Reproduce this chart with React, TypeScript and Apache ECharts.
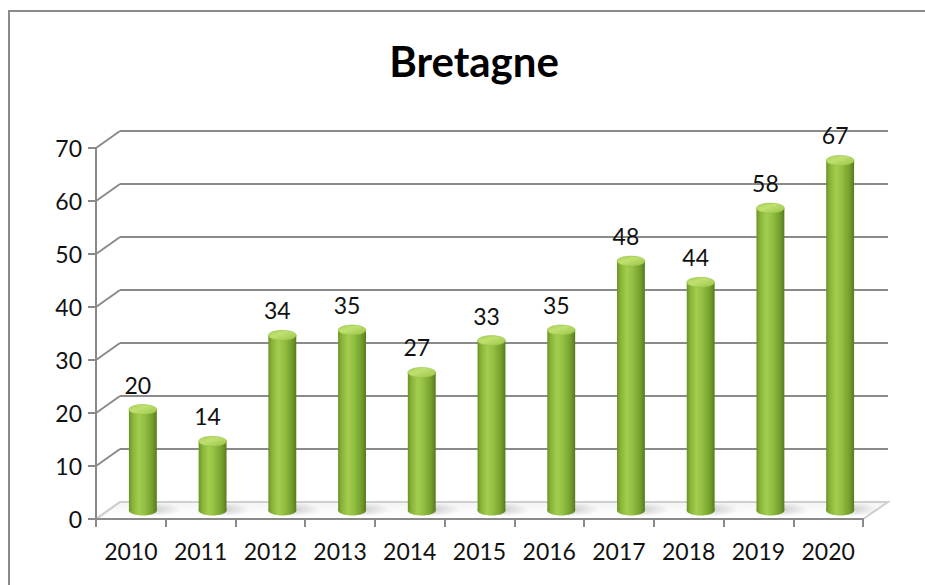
import React, { useEffect, useRef } from "react";
import * as echarts from "echarts";

const categories = ["2010", "2011", "2012", "2013", "2014", "2015", "2016", "2017", "2018", "2019", "2020"];
const values = [20, 14, 34, 35, 27, 33, 35, 48, 44, 58, 67];
const yTicks = [0, 10, 20, 30, 40, 50, 60, 70];
const title = "Bretagne";

const FONT = "Lato, 'Open Sans', sans-serif";
const GRID_COLOR = "#8a8a8a";
const FLOOR_COLOR = "#cfcfcf";

// front plane, back wall, middle (bars)
const FRONT = { left: 96, right: 62, top: 148, bottom: 66 };
const BACK = { left: 120, right: 37, top: 131, bottom: 83 };
const MID = { left: 108, right: 50, top: 139.5, bottom: 74.5 };

export default function App() {
  const ref = useRef<HTMLDivElement>(null);
  useEffect(() => {
    if (!ref.current) return;
    document.body.style.margin = "0";
    document.body.style.overflow = "hidden";
    document.documentElement.style.overflow = "hidden";
    const chart = echarts.init(ref.current, undefined, { renderer: "svg" });
    const yMax = yTicks[yTicks.length - 1];
    const splitColors = yTicks.map((t) => (t === 0 ? FLOOR_COLOR : GRID_COLOR));
    const option: any = {
      animation: false,
      backgroundColor: "#ffffff",
      title: {
        text: title,
        left: 469,
        top: 35,
        textAlign: "center",
        textStyle: { fontFamily: FONT, fontWeight: "bold", fontSize: 42, color: "#000" },
      },
      grid: [
        { ...FRONT, containLabel: false },
        { ...BACK, containLabel: false },
        { ...MID, containLabel: false },
      ],
      xAxis: [
        {
          gridIndex: 0,
          type: "category",
          data: categories,
          boundaryGap: true,
          axisLine: { show: true, lineStyle: { color: GRID_COLOR, width: 2 } },
          axisTick: { show: true, length: 8, lineStyle: { color: GRID_COLOR, width: 2 } },
          axisLabel: { margin: 20, fontFamily: FONT, fontSize: 23, color: "#111" },
          splitLine: { show: false },
        },
        { gridIndex: 1, type: "category", data: categories, show: false },
        { gridIndex: 2, type: "category", data: categories, boundaryGap: true, show: false },
      ],
      yAxis: [
        {
          gridIndex: 0,
          type: "value",
          min: 0,
          max: yMax,
          interval: 10,
          axisLine: { show: true, lineStyle: { color: GRID_COLOR, width: 2 } },
          axisTick: { show: true, length: 8, lineStyle: { color: GRID_COLOR, width: 2 } },
          axisLabel: { margin: 14, fontFamily: FONT, fontSize: 23, color: "#111" },
          splitLine: { show: false },
        },
        {
          gridIndex: 1,
          type: "value",
          min: 0,
          max: yMax,
          interval: 10,
          axisLine: { show: false },
          axisTick: { show: false },
          axisLabel: { show: false },
          splitLine: {
            show: true,
            lineStyle: { color: splitColors, width: 2 },
          },
        },
        { gridIndex: 2, type: "value", min: 0, max: yMax, interval: 10, show: false },
      ],
      series: [
        {
          type: "custom",
          xAxisIndex: 2,
          yAxisIndex: 2,
          z: 5,
          data: values.map((v, i) => [i, v]),
          renderItem: (params: any, api: any) => {
            const idx = api.value(0);
            const v = api.value(1);
            const top = api.coord([idx, v]);
            const base = api.coord([idx, 0]);
            const w = api.size([1, 0])[0] * 0.4;
            const rx = w / 2;
            const ry = 5;
            const cx = top[0];
            const topY = top[1] + ry;
            const bodyGrad = new echarts.graphic.LinearGradient(0, 0, 1, 0, [
              { offset: 0, color: "#6a9128" },
              { offset: 0.12, color: "#86b336" },
              { offset: 0.35, color: "#a3cd4e" },
              { offset: 0.55, color: "#94c143" },
              { offset: 0.85, color: "#729d2c" },
              { offset: 1, color: "#577a1d" },
            ]);
            const topGrad = new echarts.graphic.LinearGradient(0, 0, 1, 1, [
              { offset: 0, color: "#a9d157" },
              { offset: 0.4, color: "#c0e070" },
              { offset: 1, color: "#98c446" },
            ]);
            const shadowGrad = new echarts.graphic.RadialGradient(0.35, 0.5, 0.6, [
              { offset: 0, color: "rgba(0,0,0,0.18)" },
              { offset: 1, color: "rgba(0,0,0,0)" },
            ]);
            return {
              type: "group",
              children: [
                {
                  type: "ellipse",
                  shape: { cx: cx + rx * 1.2, cy: base[1] - 1, rx: rx * 1.7, ry: 6 },
                  style: { fill: shadowGrad },
                },
                {
                  type: "rect",
                  shape: { x: cx - rx, y: topY, width: w, height: Math.max(0, base[1] - topY) },
                  style: { fill: bodyGrad },
                },
                {
                  type: "ellipse",
                  shape: { cx, cy: base[1], rx, ry },
                  style: { fill: bodyGrad },
                },
                {
                  type: "ellipse",
                  shape: { cx, cy: topY, rx, ry },
                  style: { fill: topGrad, stroke: "#8fbd3e", lineWidth: 0.5 },
                },
                {
                  type: "text",
                  x: cx - 5,
                  y: top[1] - 20,
                  style: {
                    text: String(v),
                    fontFamily: FONT,
                    fontSize: 23,
                    fill: "#111",
                    align: "center",
                    verticalAlign: "middle",
                  },
                },
              ],
            };
          },
        },
      ],
    };
    chart.setOption(option);

    // diagonal connectors between front axis and back wall, and the floor
    const frontLeft = FRONT.left;
    const backLeft = BACK.left;
    const frontRight = 925 - FRONT.right;
    const backRight = 925 - BACK.right;
    const graphics: any[] = [];
    const y0f = chart.convertToPixel({ yAxisIndex: 0 } as any, 0) as number;
    const y0b = chart.convertToPixel({ yAxisIndex: 1 } as any, 0) as number;
    graphics.push({
      type: "polygon",
      z: -5,
      silent: true,
      shape: {
        points: [
          [frontLeft, y0f],
          [frontRight, y0f],
          [backRight, y0b],
          [backLeft, y0b],
        ],
      },
      style: {
        fill: new echarts.graphic.LinearGradient(0, 0, 0, 1, [
          { offset: 0, color: "#f4f4f4" },
          { offset: 1, color: "#ffffff" },
        ]),
        stroke: FLOOR_COLOR,
        lineWidth: 2,
      },
    });
    yTicks.forEach((t) => {
      const yf = chart.convertToPixel({ yAxisIndex: 0 } as any, t) as number;
      const yb = chart.convertToPixel({ yAxisIndex: 1 } as any, t) as number;
      graphics.push({
        type: "line",
        z: -4,
        silent: true,
        shape: { x1: frontLeft, y1: yf, x2: backLeft, y2: yb },
        style: { stroke: t === 0 ? FLOOR_COLOR : GRID_COLOR, lineWidth: 2 },
      });
    });
    chart.setOption({ graphic: graphics });
    return () => chart.dispose();
  }, []);
  return (
    <div style={{ position: "absolute", left: 0, top: 0, width: 925, height: 585, overflow: "hidden" }}>
      <div
        ref={ref}
        style={{ position: "absolute", left: 0, top: 0, width: 925, height: 585 }}
      />
      <div
        style={{
          position: "absolute",
          left: 8,
          top: 10,
          width: 940,
          height: 600,
          borderLeft: "2px solid #8a8a8a",
          borderTop: "2px solid #8a8a8a",
          boxSizing: "border-box",
          pointerEvents: "none",
        }}
      />
    </div>
  );
}
